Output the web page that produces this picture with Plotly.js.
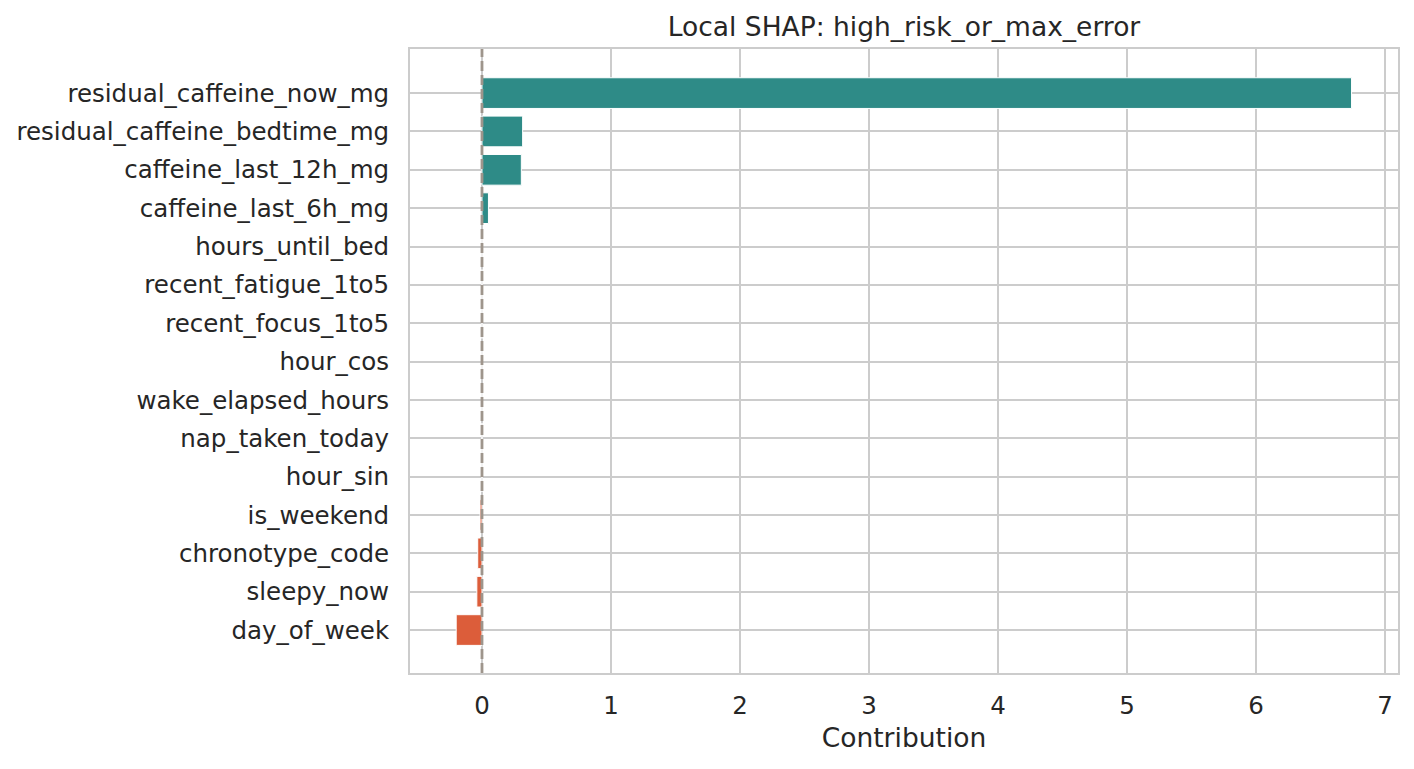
<!DOCTYPE html>
<html>
<head>
<meta charset="utf-8">
<script src="https://cdn.plot.ly/plotly-3.0.1.min.js"></script>
<style>
  html, body { margin: 0; padding: 0; background: #fff; }
  #chart { width: 1414px; height: 769px; }
</style>
</head>
<body>
<div id="chart"></div>
<script>
// features, top to bottom
var features = [
  'residual_caffeine_now_mg',
  'residual_caffeine_bedtime_mg',
  'caffeine_last_12h_mg',
  'caffeine_last_6h_mg',
  'hours_until_bed',
  'recent_fatigue_1to5',
  'recent_focus_1to5',
  'hour_cos',
  'wake_elapsed_hours',
  'nap_taken_today',
  'hour_sin',
  'is_weekend',
  'chronotype_code',
  'sleepy_now',
  'day_of_week'
];
var contributions = [6.74, 0.315, 0.305, 0.05, 0, 0, 0, 0, 0, 0, 0, -0.015, -0.033, -0.04, -0.2];
var xTicks = [0, 1, 2, 3, 4, 5, 6, 7];

var POS = '#2e8b87', NEG = '#dc5d3a';
var txt = '#262626';
var font = 'DejaVu Sans, sans-serif';

var trace = {
  type: 'bar',
  orientation: 'h',
  y: features,
  x: contributions,
  width: 0.8,
  marker: {
    color: contributions.map(v => v >= 0 ? POS : NEG),
    line: {color: '#ffffff', width: 1}
  },
  hoverinfo: 'x+y'
};

var layout = {
  width: 1414, height: 769,
  margin: {l: 410, r: 16, t: 49, b: 96},
  paper_bgcolor: '#ffffff',
  plot_bgcolor: '#ffffff',
  showlegend: false,
  font: {family: font, color: txt, size: 24.5},
  title: {
    text: 'Local SHAP: high_risk_or_max_error',
    font: {family: font, size: 26.5, color: txt},
    x: 0.5, xanchor: 'center', xref: 'paper',
    y: 0.965, yanchor: 'middle', yref: 'container'
  },
  xaxis: {
    range: [-0.558, 7.1],
    autorange: false,
    tickvals: xTicks,
    ticktext: xTicks.map(String),
    showgrid: true, gridcolor: '#cccccc', gridwidth: 2,
    zeroline: false,
    showline: true, linecolor: '#cccccc', linewidth: 2, mirror: true,
    ticks: '', ticklen: 0,
    ticklabelstandoff: 10,
    tickfont: {family: font, size: 24.5, color: txt},
    title: {text: 'Contribution', font: {family: font, size: 26.5, color: txt}, standoff: 9}
  },
  yaxis: {
    type: 'category',
    categoryorder: 'array', categoryarray: features,
    autorange: false,
    range: [15.12, -1.15],
    showgrid: true, gridcolor: '#cccccc', gridwidth: 2,
    zeroline: false,
    showline: true, linecolor: '#cccccc', linewidth: 2, mirror: true,
    ticks: '', ticklen: 0,
    ticklabelstandoff: 14,
    tickfont: {family: font, size: 24.5, color: txt}
  },
  shapes: [{
    type: 'line', layer: 'above',
    xref: 'x', yref: 'paper',
    x0: 0, x1: 0, y0: 0, y1: 1,
    line: {color: '#9e958c', width: 2.8, dash: '10px,4px'}
  }]
};

Plotly.newPlot('chart', [trace], layout, {displayModeBar: false, staticPlot: true});
</script>
</body>
</html>
